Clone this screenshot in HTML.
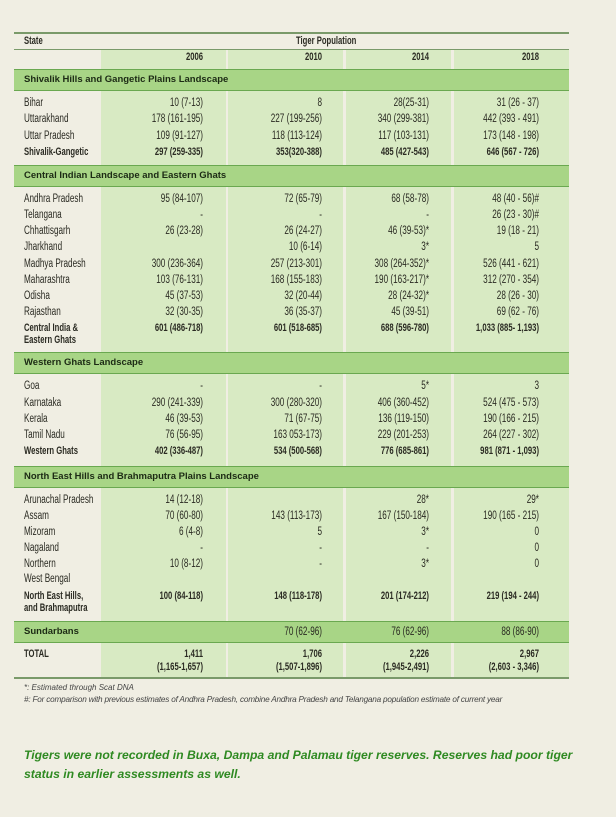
<!DOCTYPE html>
<html><head><style>
body{margin:0;width:616px;height:817px;background:#f0eee3;position:relative;overflow:hidden;font-family:"Liberation Sans",sans-serif;color:#2a2a22}
.a{position:absolute}
.col{position:absolute;background:#d8eac3}
.sec{position:absolute;left:14px;width:555px;background:#a8d586;border-top:1px solid #6aa850;border-bottom:1px solid #6aa850;font-weight:bold;font-size:9.5px;line-height:20px;padding-left:10px;box-sizing:border-box;color:#1c2a14}
.hl{position:absolute;left:14px;width:555px;height:1px;background:#7a9a6a}
.t{position:absolute;font-size:11.5px;line-height:12px;white-space:nowrap;transform:scaleX(0.71)}
.s{left:24px;transform-origin:left center}
.c1,.c2,.c3,.c4{text-align:right;width:120px;transform-origin:right center}
.c1{left:83px}.c2{left:202px}.c3{left:309px}.c4{left:419px}
.b{font-weight:bold;font-size:10.8px}
</style></head><body>
<div class="col" style="left:101px;top:49px;width:125px;height:628px"></div>
<div class="col" style="left:228px;top:49px;width:115px;height:628px"></div>
<div class="col" style="left:346px;top:49px;width:105px;height:628px"></div>
<div class="col" style="left:454px;top:49px;width:115px;height:628px"></div>
<div class="hl" style="top:32px;height:2px"></div>
<div class="hl" style="top:49px"></div>
<div class="hl" style="top:677px;height:2px"></div>
<div class="t s b" style="top:35px">State</div>
<div class="t b" style="top:35px;left:296px;transform-origin:left center">Tiger Population</div>
<div class="t c1 b" style="top:51px">2006</div><div class="t c2 b" style="top:51px">2010</div><div class="t c3 b" style="top:51px">2014</div><div class="t c4 b" style="top:51px">2018</div>

<div class="sec" style="top:69px;height:22px">Shivalik Hills and Gangetic Plains Landscape</div>
<div class="t s" style="top:97px">Bihar</div><div class="t c1" style="top:97px">10 (7-13)</div><div class="t c2" style="top:97px">8</div><div class="t c3" style="top:97px">28(25-31)</div><div class="t c4" style="top:97px">31 (26 - 37)</div>
<div class="t s" style="top:113px">Uttarakhand</div><div class="t c1" style="top:113px">178 (161-195)</div><div class="t c2" style="top:113px">227 (199-256)</div><div class="t c3" style="top:113px">340 (299-381)</div><div class="t c4" style="top:113px">442 (393 - 491)</div>
<div class="t s" style="top:130px">Uttar Pradesh</div><div class="t c1" style="top:130px">109 (91-127)</div><div class="t c2" style="top:130px">118 (113-124)</div><div class="t c3" style="top:130px">117 (103-131)</div><div class="t c4" style="top:130px">173 (148 - 198)</div>
<div class="t s b" style="top:146px">Shivalik-Gangetic</div><div class="t c1 b" style="top:146px">297 (259-335)</div><div class="t c2 b" style="top:146px">353(320-388)</div><div class="t c3 b" style="top:146px">485 (427-543)</div><div class="t c4 b" style="top:146px">646 (567 - 726)</div>

<div class="sec" style="top:165px;height:22px">Central Indian Landscape and Eastern Ghats</div>
<div class="t s" style="top:193px">Andhra Pradesh</div><div class="t c1" style="top:193px">95 (84-107)</div><div class="t c2" style="top:193px">72 (65-79)</div><div class="t c3" style="top:193px">68 (58-78)</div><div class="t c4" style="top:193px">48 (40 - 56)#</div>
<div class="t s" style="top:209px">Telangana</div><div class="t c1" style="top:209px">-</div><div class="t c2" style="top:209px">-</div><div class="t c3" style="top:209px">-</div><div class="t c4" style="top:209px">26 (23 - 30)#</div>
<div class="t s" style="top:225px">Chhattisgarh</div><div class="t c1" style="top:225px">26 (23-28)</div><div class="t c2" style="top:225px">26 (24-27)</div><div class="t c3" style="top:225px">46 (39-53)*</div><div class="t c4" style="top:225px">19 (18 - 21)</div>
<div class="t s" style="top:241px">Jharkhand</div><div class="t c2" style="top:241px">10 (6-14)</div><div class="t c3" style="top:241px">3*</div><div class="t c4" style="top:241px">5</div>
<div class="t s" style="top:258px">Madhya Pradesh</div><div class="t c1" style="top:258px">300 (236-364)</div><div class="t c2" style="top:258px">257 (213-301)</div><div class="t c3" style="top:258px">308 (264-352)*</div><div class="t c4" style="top:258px">526 (441 - 621)</div>
<div class="t s" style="top:274px">Maharashtra</div><div class="t c1" style="top:274px">103 (76-131)</div><div class="t c2" style="top:274px">168 (155-183)</div><div class="t c3" style="top:274px">190 (163-217)*</div><div class="t c4" style="top:274px">312 (270 - 354)</div>
<div class="t s" style="top:290px">Odisha</div><div class="t c1" style="top:290px">45 (37-53)</div><div class="t c2" style="top:290px">32 (20-44)</div><div class="t c3" style="top:290px">28 (24-32)*</div><div class="t c4" style="top:290px">28 (26 - 30)</div>
<div class="t s" style="top:306px">Rajasthan</div><div class="t c1" style="top:306px">32 (30-35)</div><div class="t c2" style="top:306px">36 (35-37)</div><div class="t c3" style="top:306px">45 (39-51)</div><div class="t c4" style="top:306px">69 (62 - 76)</div>
<div class="t s b" style="top:322px">Central India &amp;</div><div class="t s b" style="top:334px">Eastern Ghats</div>
<div class="t c1 b" style="top:322px">601 (486-718)</div><div class="t c2 b" style="top:322px">601 (518-685)</div><div class="t c3 b" style="top:322px">688 (596-780)</div><div class="t c4 b" style="top:322px">1,033 (885- 1,193)</div>

<div class="sec" style="top:352px;height:22px">Western Ghats Landscape</div>
<div class="t s" style="top:380px">Goa</div><div class="t c1" style="top:380px">-</div><div class="t c2" style="top:380px">-</div><div class="t c3" style="top:380px">5*</div><div class="t c4" style="top:380px">3</div>
<div class="t s" style="top:397px">Karnataka</div><div class="t c1" style="top:397px">290 (241-339)</div><div class="t c2" style="top:397px">300 (280-320)</div><div class="t c3" style="top:397px">406 (360-452)</div><div class="t c4" style="top:397px">524 (475 - 573)</div>
<div class="t s" style="top:413px">Kerala</div><div class="t c1" style="top:413px">46 (39-53)</div><div class="t c2" style="top:413px">71 (67-75)</div><div class="t c3" style="top:413px">136 (119-150)</div><div class="t c4" style="top:413px">190 (166 - 215)</div>
<div class="t s" style="top:429px">Tamil Nadu</div><div class="t c1" style="top:429px">76 (56-95)</div><div class="t c2" style="top:429px">163 053-173)</div><div class="t c3" style="top:429px">229 (201-253)</div><div class="t c4" style="top:429px">264 (227 - 302)</div>
<div class="t s b" style="top:445px">Western Ghats</div><div class="t c1 b" style="top:445px">402 (336-487)</div><div class="t c2 b" style="top:445px">534 (500-568)</div><div class="t c3 b" style="top:445px">776 (685-861)</div><div class="t c4 b" style="top:445px">981 (871 - 1,093)</div>

<div class="sec" style="top:466px;height:22px">North East Hills and Brahmaputra Plains Landscape</div>
<div class="t s" style="top:494px">Arunachal Pradesh</div><div class="t c1" style="top:494px">14 (12-18)</div><div class="t c3" style="top:494px">28*</div><div class="t c4" style="top:494px">29*</div>
<div class="t s" style="top:510px">Assam</div><div class="t c1" style="top:510px">70 (60-80)</div><div class="t c2" style="top:510px">143 (113-173)</div><div class="t c3" style="top:510px">167 (150-184)</div><div class="t c4" style="top:510px">190 (165 - 215)</div>
<div class="t s" style="top:526px">Mizoram</div><div class="t c1" style="top:526px">6 (4-8)</div><div class="t c2" style="top:526px">5</div><div class="t c3" style="top:526px">3*</div><div class="t c4" style="top:526px">0</div>
<div class="t s" style="top:542px">Nagaland</div><div class="t c1" style="top:542px">-</div><div class="t c2" style="top:542px">-</div><div class="t c3" style="top:542px">-</div><div class="t c4" style="top:542px">0</div>
<div class="t s" style="top:558px">Northern</div><div class="t s" style="top:573px">West Bengal</div><div class="t c1" style="top:558px">10 (8-12)</div><div class="t c2" style="top:558px">-</div><div class="t c3" style="top:558px">3*</div><div class="t c4" style="top:558px">0</div>
<div class="t s b" style="top:590px">North East Hills,</div><div class="t s b" style="top:602px">and Brahmaputra</div>
<div class="t c1 b" style="top:590px">100 (84-118)</div><div class="t c2 b" style="top:590px">148 (118-178)</div><div class="t c3 b" style="top:590px">201 (174-212)</div><div class="t c4 b" style="top:590px">219 (194 - 244)</div>

<div class="sec" style="top:621px;height:22px">Sundarbans</div>
<div class="t c2" style="top:626px">70 (62-96)</div><div class="t c3" style="top:626px">76 (62-96)</div><div class="t c4" style="top:626px">88 (86-90)</div>
<div class="t s b" style="top:648px">TOTAL</div>
<div class="t c1 b" style="top:648px">1,411</div><div class="t c2 b" style="top:648px">1,706</div><div class="t c3 b" style="top:648px">2,226</div><div class="t c4 b" style="top:648px">2,967</div>
<div class="t c1 b" style="top:661px">(1,165-1,657)</div><div class="t c2 b" style="top:661px">(1,507-1,896)</div><div class="t c3 b" style="top:661px">(1,945-2,491)</div><div class="t c4 b" style="top:661px">(2,603 - 3,346)</div>

<div class="a" style="left:24px;top:683px;font-size:8px;font-style:italic;color:#444">*: Estimated through Scat DNA</div>
<div class="a" style="left:24px;top:695px;font-size:8.2px;font-style:italic;color:#444;letter-spacing:-0.2px;white-space:nowrap">#: For comparison with previous estimates of Andhra Pradesh, combine Andhra Pradesh and Telangana population estimate of current year</div>
<div class="a" style="left:24px;top:746px;width:560px;font-size:12.2px;font-weight:bold;font-style:italic;color:#2f8a22;line-height:19px">Tigers were not recorded in Buxa, Dampa and Palamau tiger reserves. Reserves had poor tiger status in earlier assessments as well.</div>
</body></html>
